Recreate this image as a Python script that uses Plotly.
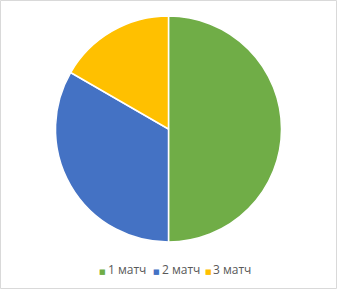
import plotly.graph_objects as go

labels = ["1 матч", "2 матч", "3 матч"]
values = [3, 2, 1]
colors = ["#70AD47", "#4472C4", "#FFC000"]

W, H = 337, 289
fig = go.Figure()
fig.add_trace(go.Pie(
    labels=labels, values=values, sort=False, direction="clockwise", rotation=0,
    marker=dict(colors=colors, line=dict(color="white", width=1.5)),
    textinfo="none", hoverinfo="label+value", showlegend=False,
    domain=dict(x=[55/W, 282/W], y=[1-242/H, 1-16/H]),
))

# legend drawn as annotations
leg_x = [97, 151, 202.5]
for xp, lab, col in zip(leg_x, labels, colors):
    fig.add_annotation(x=xp/W, y=1-271.5/H, xref="paper", yref="paper", text="■",
                       showarrow=False, xanchor="left", yanchor="middle",
                       font=dict(size=7, color=col, family="DejaVu Sans"))
    fig.add_annotation(x=(xp+8.5)/W, y=1-269.5/H, xref="paper", yref="paper", text=lab,
                       showarrow=False, xanchor="left", yanchor="middle",
                       font=dict(size=12, color="#595959", family="Open Sans"))

fig.add_shape(type="rect", xref="paper", yref="paper", x0=0.5/W, y0=0.5/H, x1=1-0.5/W, y1=1-0.5/H,
              line=dict(color="#D9D9D9", width=1))

fig.update_layout(width=W, height=H, margin=dict(l=0, r=0, t=0, b=0),
                  paper_bgcolor="white", plot_bgcolor="white")
fig.write_html("out.html")
